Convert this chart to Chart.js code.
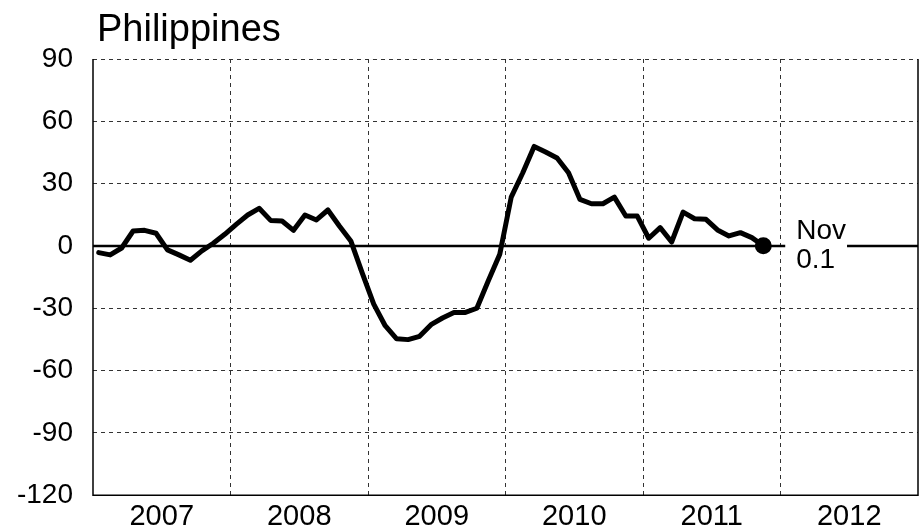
<!DOCTYPE html>
<html>
<head>
<meta charset="utf-8">
<script src="https://cdn.jsdelivr.net/npm/chart.js@4/dist/chart.umd.min.js"></script>
<style>
html,body{margin:0;padding:0;background:#fff;}
#wrap{width:924px;height:532px;}
</style>
</head>
<body>
<div id="wrap"><canvas id="c" width="924" height="532"></canvas></div>
<script>
// ---- data ----
const title = 'Philippines';
const years = ['2007', '2008', '2009', '2010', '2011', '2012'];
const yTicks = [-120, -90, -60, -30, 0, 30, 60, 90];
const startYear = 2007; // series starts Jan 2007, monthly
const values = [
  -3.2, -4.3, -1.0, 7.2, 7.5, 6.1, -1.9, -4.3, -6.9, -2.4, 1.3, 5.6,      // 2007
  10.4, 14.9, 18.1, 12.3, 12.0, 7.5, 14.9, 12.5, 17.3, 9.6, 2.4, -13.1,   // 2008
  -28.0, -38.4, -44.7, -45.1, -43.5, -37.9, -34.7, -32.0, -32.0, -30.0, -16.8, -4.0, // 2009
  23.5, 35.1, 47.9, 45.2, 42.3, 35.2, 22.4, 20.3, 20.3, 23.5, 14.4, 14.4, // 2010
  3.7, 8.8, 1.9, 16.3, 13.1, 12.8, 7.7, 4.8, 6.4, 4.0, 0.1                 // 2011
];
const lastLabel = ['Nov', '0.1'];

// ---- build ----
const points = values.map((v, i) => ({x: i + 0.5, y: v}));
const nMonths = years.length * 12;
const FONT = '"Liberation Sans", Arial, Helvetica, sans-serif';

const overlay = {
  id: 'overlay',
  beforeDatasetsDraw(chart) {
    const {ctx, chartArea: a, scales: {x, y}} = chart;
    ctx.save();
    ctx.setLineDash([]);
    ctx.strokeStyle = '#000';
    // frame (left, bottom, right)
    ctx.lineWidth = 1.5;
    ctx.beginPath();
    ctx.moveTo(a.left, a.top);
    ctx.lineTo(a.left, a.bottom);
    ctx.lineTo(a.right, a.bottom);
    ctx.lineTo(a.right, a.top);
    ctx.stroke();
    // zero line
    const y0 = Math.round(y.getPixelForValue(0));
    ctx.lineWidth = 2.5;
    ctx.beginPath();
    ctx.moveTo(a.left, y0);
    ctx.lineTo(a.right, y0);
    ctx.stroke();
    // label for last point
    const lx = x.getPixelForValue(nMonths - 12 + 0.5) + 10;
    ctx.font = '28px ' + FONT;
    const w = Math.max(ctx.measureText(lastLabel[0]).width, ctx.measureText(lastLabel[1]).width);
    ctx.fillStyle = '#fff';
    ctx.fillRect(lx - 11, y0 - 26, w + 12, 52);
    ctx.fillStyle = '#000';
    ctx.textAlign = 'left';
    ctx.textBaseline = 'alphabetic';
    ctx.fillText(lastLabel[0], lx, y0 - 7);
    ctx.fillText(lastLabel[1], lx, y0 + 22);
    ctx.restore();
  },
  afterDraw(chart) {
    const {ctx} = chart;
    ctx.save();
    ctx.font = '38px ' + FONT;
    ctx.fillStyle = '#000';
    ctx.textAlign = 'left';
    ctx.textBaseline = 'alphabetic';
    ctx.fillText(title, 97, 41);
    ctx.restore();
  }
};

new Chart(document.getElementById('c'), {
  type: 'line',
  data: {
    datasets: [{
      data: points,
      borderColor: '#000',
      backgroundColor: '#000',
      borderWidth: 5,
      borderJoinStyle: 'round',
      borderCapStyle: 'round',
      tension: 0,
      pointRadius: points.map((p, i) => i === points.length - 1 ? 6 : 0),
      pointHoverRadius: 0,
      fill: false
    }]
  },
  options: {
    responsive: false,
    animation: false,
    devicePixelRatio: 1,
    layout: {autoPadding: false, padding: {top: 59, right: 6, left: 0, bottom: 0}},
    plugins: {legend: {display: false}, tooltip: {enabled: false}, title: {display: false}},
    scales: {
      x: {
        type: 'linear',
        min: 0,
        max: nMonths,
        afterBuildTicks(scale) {
          const t = [];
          for (let v = 0; v <= nMonths; v += 6) t.push({value: v});
          scale.ticks = t;
        },
        afterFit(scale) {
          scale.height = 36;
          scale.paddingLeft = 0;
          scale.paddingRight = 0;
        },
        ticks: {
          autoSkip: false,
          maxRotation: 0,
          padding: 4,
          color: '#000',
          font: {family: FONT, size: 29},
          callback: (v) => (v % 12 === 6) ? years[(v - 6) / 12] : ''
        },
        grid: {
          drawTicks: false,
          lineWidth: 1,
          color: (ctx) => {
            const v = ctx.tick && ctx.tick.value;
            return (v % 12 === 0 && v > 0 && v < nMonths) ? '#333' : 'rgba(0,0,0,0)';
          }
        },
        border: {display: false, dash: [4, 4]}
      },
      y: {
        type: 'linear',
        min: yTicks[0],
        max: yTicks[yTicks.length - 1],
        afterBuildTicks(scale) { scale.ticks = yTicks.map(v => ({value: v})); },
        afterFit(scale) { scale.width = 93; },
        ticks: {
          padding: 20,
          color: '#000',
          font: {family: FONT, size: 28}
        },
        grid: {
          drawTicks: false,
          lineWidth: 1,
          color: (ctx) => {
            const v = ctx.tick && ctx.tick.value;
            return (v === 0 || v === yTicks[0]) ? 'rgba(0,0,0,0)' : '#333';
          }
        },
        border: {display: false, dash: [4, 4]}
      }
    }
  },
  plugins: [overlay]
});
</script>
</body>
</html>
